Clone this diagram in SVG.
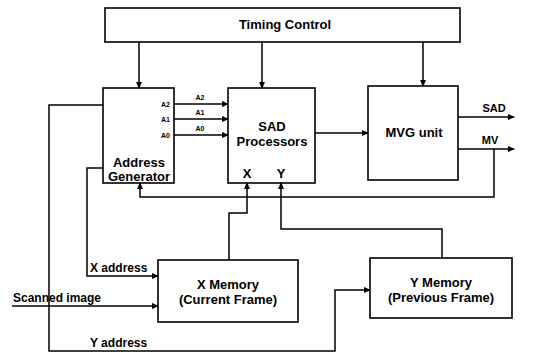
<svg xmlns="http://www.w3.org/2000/svg" width="542" height="354" viewBox="0 0 542 354">
<defs>
<marker id="ah" markerWidth="7" markerHeight="6" refX="6" refY="3" orient="auto" markerUnits="userSpaceOnUse">
<path d="M0,0 L7,3 L0,6 Z" fill="#000"/>
</marker>
<style>
.box{fill:#fff;stroke:#000;stroke-width:1.6}
.ln{fill:none;stroke:#000;stroke-width:1.5;marker-end:url(#ah)}
.pl{fill:none;stroke:#000;stroke-width:1.5}
text{font-family:"Liberation Sans",Arial,sans-serif;font-weight:bold;fill:#000}
.t{font-size:13px;text-anchor:middle}
.s{font-size:7px}
.m{font-size:11px}
</style>
</defs>
<rect width="542" height="354" fill="#fff"/>
<g id="timing"><rect class="box" x="105" y="8" width="355" height="34"/><text class="t" x="285" y="29">Timing Control</text></g>
<g id="addrgen"><rect class="box" x="103" y="88" width="71" height="95"/>
<text class="s" x="170" y="107" text-anchor="end">A2</text>
<text class="s" x="170" y="122" text-anchor="end">A1</text>
<text class="s" x="170" y="138" text-anchor="end">A0</text>
<text class="t" x="139" y="167">Address</text><text class="t" x="139" y="181">Generator</text></g>
<g id="sad"><rect class="box" x="228" y="88" width="87" height="95"/>
<text class="t" x="272" y="131">SAD</text><text class="t" x="272" y="146">Processors</text>
<text class="t" x="247" y="178">X</text><text class="t" x="281" y="178">Y</text></g>
<g id="mvg"><rect class="box" x="368" y="86" width="90" height="94"/><text class="t" x="414" y="137">MVG unit</text></g>
<g id="xmem"><rect class="box" x="158" y="260" width="140" height="62"/><text class="t" x="228" y="289">X Memory</text><text class="t" x="228" y="304">(Current Frame)</text></g>
<g id="ymem"><rect class="box" x="370" y="258" width="142" height="60"/><text class="t" x="441" y="287">Y Memory</text><text class="t" x="441" y="302">(Previous Frame)</text></g>
<g id="connectors">
<path class="ln" d="M139,42 V88"/>
<path class="ln" d="M262,42 V88"/>
<path class="ln" d="M423,42 V86"/>
<path class="ln" d="M174,104 H228"/>
<path class="ln" d="M174,119 H228"/>
<path class="ln" d="M174,135 H228"/>
<text class="s" x="200" y="100" text-anchor="middle">A2</text>
<text class="s" x="200" y="115" text-anchor="middle">A1</text>
<text class="s" x="200" y="131" text-anchor="middle">A0</text>
<path class="ln" d="M315,133 H368"/>
<path class="ln" d="M458,117 H514"/>
<path class="ln" d="M458,149 H514"/>
<text class="m" x="494" y="112" text-anchor="middle">SAD</text>
<text class="m" x="490" y="144" text-anchor="middle">MV</text>
<path class="ln" d="M494,149 V197 H140 V183"/>
<path class="ln" d="M103,105 H49 V351 H335 V290 H370"/>
<path class="ln" d="M103,168 H87 V276 H158"/>
<path class="ln" d="M12,306 H158"/>
<path class="ln" d="M229,260 V213 H247 V183"/>
<path class="ln" d="M442,258 V229 H281 V183"/>
<text font-size="12" x="90" y="272">X address</text>
<text font-size="12" x="13" y="302">Scanned image</text>
<text font-size="12" x="90" y="347">Y address</text>
</g>
</svg>
